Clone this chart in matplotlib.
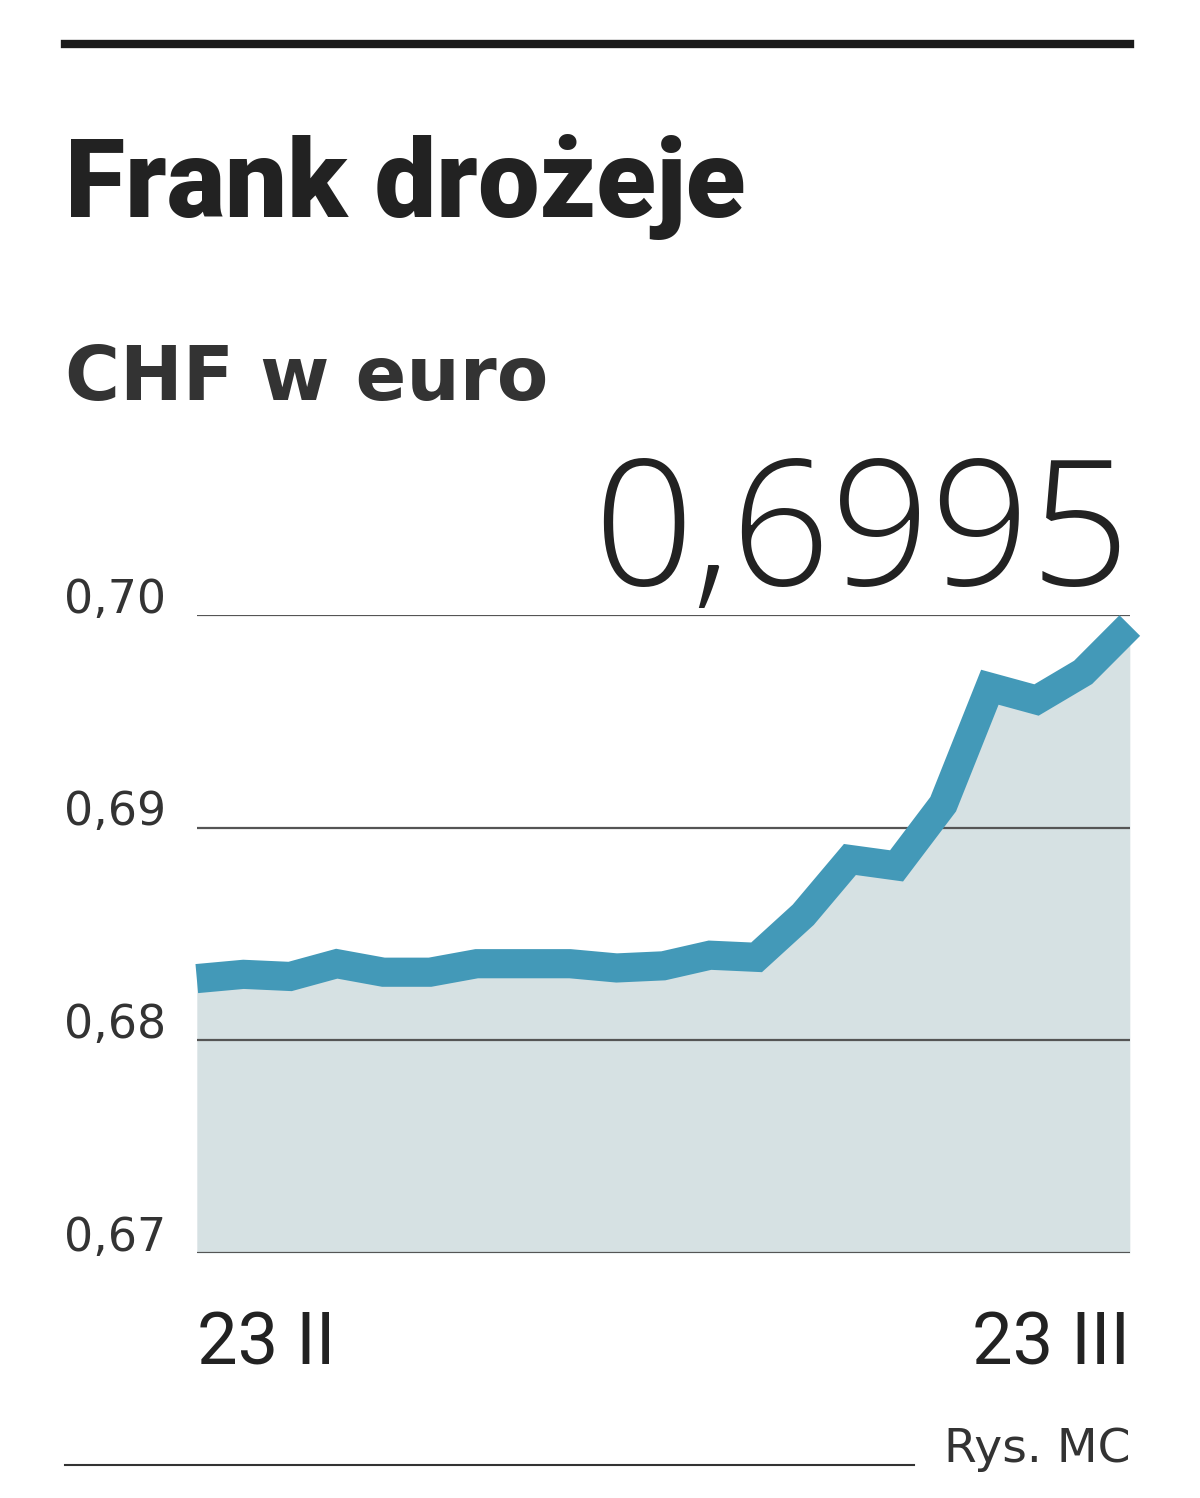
import matplotlib
matplotlib.use("Agg")
from matplotlib import pyplot as plt
import numpy as np

# CHF in euro, daily, 23 II .. 23 III
days = np.arange(21)
rate = [0.6829, 0.6831, 0.6830, 0.6836, 0.6832, 0.6832, 0.6836, 0.6836,
        0.6836, 0.6834, 0.6835, 0.6840, 0.6839, 0.6859, 0.6885, 0.6882,
        0.6911, 0.6966, 0.6960, 0.6973, 0.6995]
yticks = [0.67, 0.68, 0.69, 0.70]
ytick_labels = ["0,67", "0,68", "0,69", "0,70"]
xlabels = ["23 II", "23 III"]
last_label = "0,6995"

fig = plt.figure(figsize=(12, 14.98), dpi=100)
fig.patch.set_facecolor("white")

ax = fig.add_axes([0.164, 0.1636, 0.7775, 0.4259])
ax.fill_between(days, rate, 0.67, color="#d6e1e3", lw=0, zorder=1)
for t in yticks:
    ax.axhline(t, color="#555555", lw=1.6, zorder=2)
ax.plot(days, rate, color="#4399b8", lw=21, solid_capstyle="butt",
        solid_joinstyle="miter", clip_on=False, zorder=3)
ax.set_xlim(days[0], days[-1])
ax.set_ylim(0.67, 0.70)
ax.axis("off")

for t, lab in zip(yticks, ytick_labels):
    ax.text(-0.033, t + 0.0001, lab, transform=ax.get_yaxis_transform(), ha="right",
            va="baseline", fontsize=33, color="#333333", family="DejaVu Sans")

ax.text(0, -0.09, xlabels[0], transform=ax.transAxes, ha="left", va="top",
        fontsize=52, color="#222222", family="Roboto", fontstretch="condensed")
ax.text(1, -0.09, xlabels[1], transform=ax.transAxes, ha="right", va="top",
        fontsize=52, color="#222222", family="Roboto", fontstretch="condensed")

ax.text(1, 1.047, last_label, transform=ax.transAxes, ha="right", va="baseline",
        fontsize=126, color="#222222", family="Open Sans", fontweight="light")

# header
fig.add_artist(plt.Line2D([0.054, 0.942], [0.9705, 0.9705], color="#1a1a1a", lw=6))
fig.text(0.054, 0.855, "Frank drożeje", fontsize=79, fontweight="black",
         family="Roboto", fontstretch="condensed", color="#222222",
         ha="left", va="baseline")
fig.text(0.054, 0.733, "CHF w euro", fontsize=54, fontweight="bold",
         family="DejaVu Sans", color="#333333", ha="left", va="baseline")

# footer
fig.add_artist(plt.Line2D([0.054, 0.762], [0.022, 0.022], color="#333333", lw=1.5))
fig.text(0.942, 0.024, "Rys. MC", fontsize=34, color="#333333",
         family="DejaVu Sans", ha="right", va="baseline")

plt.savefig("out.png", dpi=100)
